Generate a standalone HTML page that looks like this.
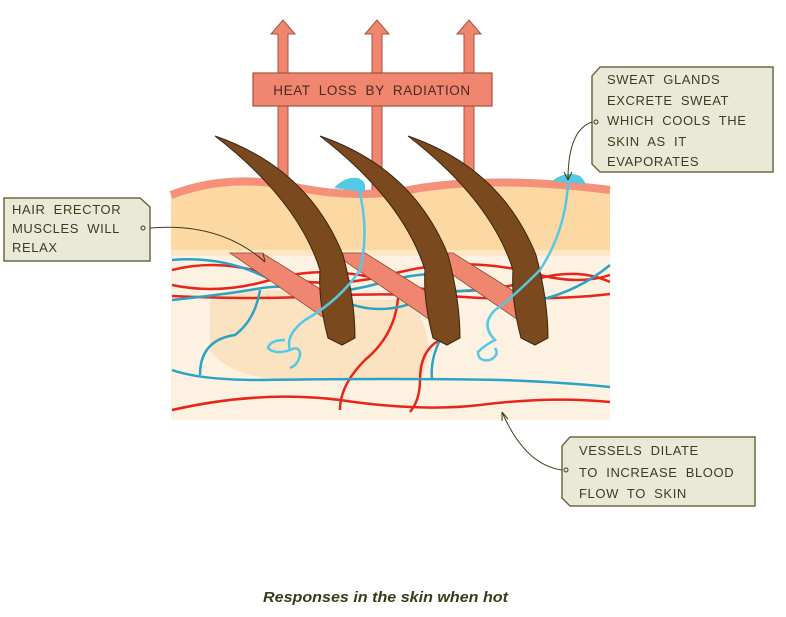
<!DOCTYPE html>
<html><head><meta charset="utf-8"><style>
html,body{margin:0;padding:0;background:#fff;}
body{width:786px;height:617px;overflow:hidden;position:relative;font-family:"Liberation Sans",sans-serif;}
svg{position:absolute;left:0;top:0;}
.lbl{font-family:"Liberation Sans",sans-serif;font-size:13px;fill:#3d3d1e;letter-spacing:0.6px;word-spacing:4px;}
</style></head><body>
<svg width="786" height="617" viewBox="0 0 786 617">
<!-- arrows -->
<g fill="#f08670" stroke="#a8503c" stroke-width="1">
<path d="M278,190 L278,34 L271,34 L283,20 L295,34 L288,34 L288,190 Z"/>
<path d="M372,190 L372,34 L365,34 L377,20 L389,34 L382,34 L382,190 Z"/>
<path d="M464,190 L464,34 L457,34 L469,20 L481,34 L474,34 L474,190 Z"/>
</g>
<rect x="253" y="73" width="239" height="33" fill="#f08670" stroke="#a8503c" stroke-width="1.2"/>
<text x="372" y="95" text-anchor="middle" class="lbl" style="fill:#4a2a1e;font-size:13.5px">HEAT LOSS BY RADIATION</text>

<!-- skin layers -->
<path d="M171,195 Q230,172 300,188 Q360,200 420,188 Q500,176 610,190 L610,420 L171,420 Z" fill="#fcd9a2"/>
<path d="M171,195 Q230,172 300,188 Q360,200 420,188 Q500,176 610,190" fill="none" stroke="#f5907a" stroke-width="8"/>
<path d="M171,255 L610,255 L610,420 L171,420 Z" fill="#fdf2e2"/>
<path d="M210,300 Q260,280 330,300 L410,300 Q440,340 420,380 L300,380 Q230,380 210,350 Z" fill="#fbe2c0"/>
<rect x="171" y="250" width="439" height="6" fill="#fde7c7"/>

<!-- red vessels top -->
<g fill="none" stroke="#e8251c" stroke-width="2.5">
<path d="M172,270 Q220,258 270,275 Q330,292 400,272 Q470,255 540,275 Q580,285 610,275"/>
<path d="M172,285 Q220,295 270,280 Q330,262 400,285 Q470,300 540,278 Q580,268 610,282"/>
<path d="M172,296 Q260,300 320,296 Q400,292 480,298 Q560,300 610,294"/>
<path d="M172,410 Q260,390 340,400 Q420,412 480,405 Q550,396 610,402"/>
<path d="M398,298 Q395,335 365,360 Q340,385 340,410"/>
<path d="M440,340 Q420,350 420,380 Q420,400 410,412"/>
</g>
<!-- blue vessels -->
<g fill="none" stroke="#2aa3c4" stroke-width="2.5">
<path d="M172,260 Q230,255 280,285 Q320,300 380,283 Q430,268 470,278"/>
<path d="M172,300 Q220,295 250,290 Q300,280 340,300 Q380,318 420,300 Q480,280 540,300 Q580,290 610,265"/>
<path d="M260,290 Q255,320 235,335 Q200,340 200,375"/>
<path d="M172,370 Q200,380 260,380 Q400,378 500,380 Q560,382 610,387"/>
<path d="M440,300 Q460,320 440,340 Q430,360 432,380"/>
</g>

<!-- erector muscles -->
<g fill="#f08670" stroke="#8a4a30" stroke-width="0.8">
<path d="M230,253 L262,253 L338,300 L330,322 Z"/>
<path d="M333,253 L365,253 L440,300 L433,322 Z"/>
<path d="M421,253 L453,253 L528,300 L521,322 Z"/>
</g>

<!-- hairs -->
<g fill="#7a4a1e" stroke="#3a2410" stroke-width="1">
<path d="M215,136 Q308,168 343,255 Q355,300 355,338 L342,345 L328,338 Q318,300 320,270 Q298,200 215,136 Z"/>
<path d="M320,136 Q413,168 448,255 Q460,300 460,338 L447,345 L433,338 Q423,300 425,270 Q403,200 320,136 Z"/>
<path d="M408,136 Q501,168 536,255 Q548,300 548,338 L535,345 L521,338 Q511,300 513,270 Q491,200 408,136 Z"/>
</g>

<!-- sweat glands -->
<g fill="none" stroke="#55c8e6" stroke-width="2.5">
<path d="M358,185 Q370,230 360,270 Q340,300 305,320 Q285,335 290,350 M290,350 Q275,355 268,348 Q270,340 285,340 M290,350 Q300,345 300,355 Q298,365 290,368"/>
<path d="M568,182 Q566,230 540,270 Q510,300 495,310 Q480,325 495,340 Q485,345 478,352 Q478,362 490,360 Q500,355 495,348"/>
</g>
<path d="M334,188 Q345,176 358,178 Q368,182 364,192 Z" fill="#55c8e6"/>
<path d="M552,181 Q566,170 580,176 Q586,182 585,184 Z" fill="#55c8e6"/>

<!-- label boxes -->
<g fill="#eae9d7" stroke="#6b6b3e" stroke-width="1.5">
<path d="M4,198 L140,198 L150,207 L150,261 L4,261 Z"/>
<path d="M600,67 L773,67 L773,172 L600,172 L592,164 L592,76 Z"/>
<path d="M570,437 L755,437 L755,506 L570,506 L562,498 L562,446 Z"/>
</g>
<g fill="none" stroke="#3d3d1e" stroke-width="1">
<path d="M150,228 Q220,222 265,262"/>
<path d="M265,262 L258,256 M265,262 L263,253"/>
<path d="M592,122 Q568,130 568,180"/>
<path d="M568,180 L564,172 M568,180 L572,172"/>
<path d="M562,470 Q525,465 502,412"/>
<path d="M502,412 L502,421 M502,412 L508,419"/>
</g>
<g fill="#eae9d7" stroke="#3d3d1e" stroke-width="1"><circle cx="143" cy="228" r="2"/><circle cx="596" cy="122" r="2"/><circle cx="566" cy="470" r="2"/></g>
<text class="lbl" x="12" y="214">HAIR ERECTOR</text>
<text class="lbl" x="12" y="233">MUSCLES WILL</text>
<text class="lbl" x="12" y="252">RELAX</text>
<text class="lbl" x="607" y="84">SWEAT GLANDS</text>
<text class="lbl" x="607" y="105">EXCRETE SWEAT</text>
<text class="lbl" x="607" y="125">WHICH COOLS THE</text>
<text class="lbl" x="607" y="146">SKIN AS IT</text>
<text class="lbl" x="607" y="166">EVAPORATES</text>
<text class="lbl" x="579" y="455">VESSELS DILATE</text>
<text class="lbl" x="579" y="477">TO INCREASE BLOOD</text>
<text class="lbl" x="579" y="498">FLOW TO SKIN</text>
<text x="263" y="602" textLength="245" lengthAdjust="spacingAndGlyphs" style="font-family:'Liberation Sans',sans-serif;font-size:15px;font-weight:bold;font-style:italic;fill:#3b3b1a">Responses in the skin when hot</text>
</svg>
</body></html>
